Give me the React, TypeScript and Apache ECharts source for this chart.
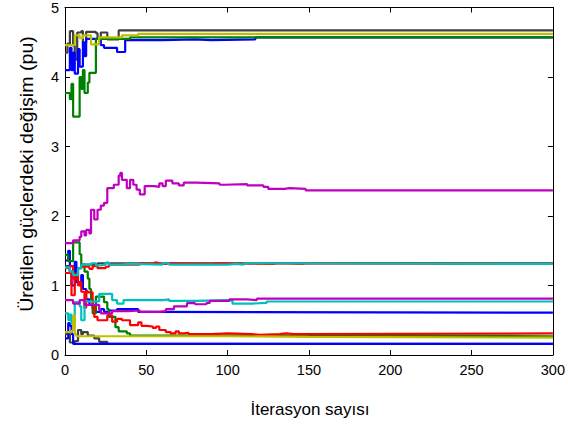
import React, { useEffect, useRef } from "react";
import * as echarts from "echarts";

// [iteration, value] breakpoints (held until the next breakpoint)
const kTop = [[0,4.35],[1.5,4.48],[3,4.66],[5,4.45],[6,4.25],[7.5,4.64],[10,4.66],[11,4.49],[13,4.65],[19,4.63],[20,4.55],[22,4.64],[26,4.54],[33,4.67],[300,4.67]];
const k132 = [[0,1.28],[5,1.25],[10,1.3],[20,1.32],[300,1.32]];
const k016 = [[0,0.3],[3,0.18],[6,0.2],[8,0.36],[10,0.3],[11,0.33],[14,0.28],[18,0.24],[21,0.19],[26,0.16],[300,0.16]];
const bTop = [[0,4.1],[3,4.42],[4,4.1],[5,4.35],[6,4.05],[8,4.4],[9,4.15],[11,4.5],[12,4.3],[13,4.55],[22,4.46],[24,4.42],[32,4.36],[37,4.53],[60,4.54],[80,4.53],[90,4.54],[117,4.57],[300,4.57]];
const b061 = [[0,1.36],[2,1.5],[3,1.2],[4,1.0],[6,1.34],[7,1.05],[10,1.15],[11,0.95],[13,0.8],[15,0.72],[17,0.67],[19,0.62],[22,0.66],[24,0.62],[27,0.64],[32,0.66],[45,0.62],[50,0.61],[300,0.61]];
const b016 = [[0,0.24],[2,0.46],[3,0.42],[4,0.3],[5,0.16],[300,0.16]];
const gTop = [[0,3.77],[3,3.68],[4,3.9],[5,3.43],[9,4.0],[10,3.83],[11,4.1],[12,3.77],[14,3.92],[15,4.06],[19,4.55],[40,4.57],[300,4.58]];
const g026 = [[0,1.44],[2,1.35],[5,1.62],[9,1.45],[10,1.3],[12,1.2],[14,1.1],[15,0.95],[16,0.8],[17,0.6],[19,0.84],[24,0.76],[26,0.66],[27,0.55],[31,0.4],[33,0.34],[38,0.31],[40,0.28],[60,0.27],[300,0.26]];
const r031 = [[0,1.25],[3,1.2],[4,0.86],[6,1.17],[8,1.0],[9,1.05],[10,0.91],[12,0.68],[13,0.92],[14,0.9],[17,0.7],[18,0.55],[20,0.5],[26,0.57],[29,0.48],[32,0.52],[35,0.5],[40,0.43],[45,0.47],[47,0.42],[50,0.41],[54,0.39],[56,0.41],[58,0.36],[62,0.33],[65,0.31],[68,0.34],[70,0.31],[73,0.32],[76,0.3],[90,0.31],[100,0.3],[115,0.29],[120,0.3],[132,0.31],[136,0.3],[141,0.31],[300,0.31]];
const r131 = [[0,1.18],[3,1.28],[5,1.1],[8,1.25],[10,1.27],[15,1.24],[17,1.28],[20,1.25],[25,1.27],[27,1.3],[46,1.32],[48,1.31],[55,1.33],[57,1.31],[62,1.32],[64,1.31],[90,1.32],[92,1.31],[128,1.32],[131,1.31],[146,1.32],[149,1.31],[300,1.31]];
const c131 = [[0,1.26],[3,1.2],[5,1.15],[8,1.25],[10,1.3],[16,1.32],[19,1.29],[22,1.3],[25,1.33],[27,1.3],[35,1.31],[40,1.3],[60,1.32],[64,1.3],[100,1.31],[105,1.3],[110,1.32],[113,1.31],[300,1.31]];
const c077 = [[0,0.6],[2,0.5],[3,0.58],[4,0.45],[6,0.76],[9,0.7],[10,0.5],[12,0.77],[21,0.88],[29,0.79],[32,0.74],[36,0.79],[60,0.8],[64,0.78],[80,0.79],[100,0.78],[103,0.74],[115,0.75],[124,0.77],[300,0.77]];
const mTop = [[0,1.61],[5,1.65],[9,1.7],[10,1.78],[12,1.72],[13,1.8],[15,1.75],[16,2.09],[18,1.95],[20,2.09],[22,2.15],[24,2.19],[26,2.4],[30,2.45],[33,2.58],[34,2.62],[35,2.52],[38,2.4],[40,2.52],[42,2.45],[44,2.38],[46,2.31],[49,2.43],[55,2.42],[58,2.47],[60,2.43],[62,2.51],[66,2.47],[70,2.44],[73,2.48],[81,2.47],[95,2.45],[98,2.46],[112,2.44],[122,2.42],[125,2.39],[135,2.4],[138,2.39],[148,2.37],[300,2.37]];
const m081 = [[0,0.79],[5,0.74],[9,0.79],[12,0.72],[21,0.65],[22,0.6],[29,0.63],[39,0.64],[46,0.62],[58,0.63],[62,0.66],[67,0.7],[75,0.745],[80,0.73],[87,0.75],[89,0.78],[101,0.8],[112,0.79],[118,0.81],[300,0.81]];
const yTop = [[0,4.46],[6,4.6],[9,4.56],[11,4.6],[16,4.47],[21,4.57],[35,4.6],[45,4.62],[300,4.62]];
const y025 = [[0,0.33],[4,0.35],[5,0.57],[6,0.3],[7,0.27],[100,0.26],[150,0.25],[300,0.25]];

const GRAY = "#404040", BLUE = "#0000ff", GREEN = "#008000", RED = "#ff0000", CYAN = "#00bfbf", MAGENTA = "#bf00bf", YELLOW = "#bfbf00";

const lines: [number[][], string][] = [
  [kTop, GRAY], [k132, GRAY], [k016, GRAY],
  [bTop, BLUE], [b061, BLUE], [b016, BLUE],
  [gTop, GREEN], [g026, GREEN],
  [r031, RED], [r131, RED],
  [c131, CYAN], [c077, CYAN],
  [mTop, MAGENTA], [m081, MAGENTA],
  [yTop, YELLOW], [y025, YELLOW],
];

const X_MIN = 0, X_MAX = 300, X_STEP = 50;
const Y_MIN = 0, Y_MAX = 5, Y_STEP = 1;
const xName = "İterasyon sayısı";
const yName = "Üretilen güçlerdeki değişim (pu)";

export default function App() {
  const ref = useRef<HTMLDivElement>(null);
  useEffect(() => {
    if (!ref.current) return;
    const chart = echarts.init(ref.current, undefined, { renderer: "svg" });
    const font = "'Liberation Sans', Arial, sans-serif";
    const axisLine = { show: true, onZero: false, lineStyle: { color: "#000", width: 1 } };
    const tick = { show: true, inside: true, length: 5, lineStyle: { color: "#000" } };
    chart.setOption({
      animation: false,
      backgroundColor: "#fff",
      grid: { left: 65, right: 14, top: 7, bottom: 73, containLabel: false },
      xAxis: [
        {
          type: "value", position: "bottom", min: X_MIN, max: X_MAX, interval: X_STEP,
          axisLine, axisTick: tick, splitLine: { show: false },
          axisLabel: { color: "#000", fontSize: 14.5, fontFamily: font, margin: 7 },
        },
        {
          type: "value", position: "top", min: X_MIN, max: X_MAX, interval: X_STEP,
          axisLine, axisTick: tick, splitLine: { show: false }, axisLabel: { show: false },
        },
      ],
      yAxis: [
        {
          type: "value", position: "left", min: Y_MIN, max: Y_MAX, interval: Y_STEP,
          axisLine, axisTick: tick, splitLine: { show: false },
          axisLabel: { color: "#000", fontSize: 14.5, fontFamily: font, margin: 6 },
        },
        {
          type: "value", position: "right", min: Y_MIN, max: Y_MAX, interval: Y_STEP,
          axisLine, axisTick: tick, splitLine: { show: false }, axisLabel: { show: false },
        },
      ],
      graphic: [
        {
          type: "text", x: 310, y: 409,
          style: { text: xName, fontSize: 17, fontFamily: font, fill: "#000", align: "center", verticalAlign: "middle" },
        },
        {
          type: "text", x: 27, y: 174, rotation: Math.PI / 2, scaleX: 1.09,
          style: { text: yName, fontSize: 18, fontFamily: font, fill: "#000", align: "center", verticalAlign: "middle" },
        },
      ],
      series: lines.map(([data, color]) => ({
        type: "line",
        data,
        step: "end",
        showSymbol: false,
        symbol: "none",
        xAxisIndex: 0,
        yAxisIndex: 0,
        lineStyle: { color, width: 2.2 },
        itemStyle: { color },
      })),
    });
    return () => chart.dispose();
  }, []);
  return <div ref={ref} style={{ position: "fixed", left: 0, top: 0, width: 568, height: 428 }} />;
}
